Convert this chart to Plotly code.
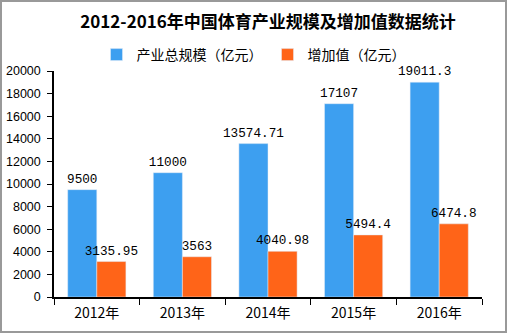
import plotly.graph_objects as go

years = ["2012年", "2013年", "2014年", "2015年", "2016年"]
scale = [9500, 11000, 13574.71, 17107, 19011.3]
added = [3135.95, 3563, 4040.98, 5494.4, 6474.8]
scale_labels = ["9500", "11000", "13574.71", "17107", "19011.3"]
added_labels = ["3135.95", "3563", "4040.98", "5494.4", "6474.8"]
yticks = [0, 2000, 4000, 6000, 8000, 10000, 12000, 14000, 16000, 18000, 20000]
ytick_labels = [str(v) for v in yticks]

W, H = 507, 333
L, R, T, B = 54, 25, 71, 36

lbl_font = dict(family="Liberation Mono", size=12.7, color="#000")

fig = go.Figure()
fig.add_bar(x=years, y=scale, name="产业总规模（亿元）", marker_color="#3D9FF0",
            text=scale_labels, textposition="outside", constraintext="none",
            textfont=lbl_font, outsidetextfont=lbl_font)
fig.add_bar(x=years, y=added, name="增加值（亿元）", marker_color="#FF6418",
            text=added_labels, textposition="outside", constraintext="none",
            textfont=lbl_font, outsidetextfont=lbl_font)

pw, ph = W - L - R, H - T - B
fig.add_shape(type="rect", xref="paper", yref="paper",
              x0=-(L - 1) / pw, x1=1 + (R - 1) / pw,
              y0=-(B - 1) / ph, y1=1 + (T - 1) / ph,
              line=dict(color="#999999", width=2), layer="below")

fig.update_layout(
    width=W, height=H,
    margin=dict(l=L, r=R, t=T, b=B, autoexpand=False),
    paper_bgcolor="white", plot_bgcolor="white",
    barmode="group", bargap=0.32, bargroupgap=0,
    font=dict(family="Noto Sans CJK SC", size=13, color="#000"),
    title=dict(text="<b>2012-2016年中国体育产业规模及增加值数据统计</b>",
               x=0.5, xref="paper", y=1 - 22 / H, yanchor="middle",
               font=dict(size=17, color="#000")),
    legend=dict(orientation="h", x=0.5, xanchor="center", xref="container",
                y=1 - 55 / H, yref="container", yanchor="middle",
                font=dict(size=14), itemwidth=30, tracegroupgap=0,
                bgcolor="rgba(0,0,0,0)"),
    showlegend=True,
)
fig.update_traces(cliponaxis=False)
fig.update_xaxes(showline=True, linecolor="#000", linewidth=1.5,
                 ticks="outside", tickson="boundaries", ticklen=6,
                 tickcolor="#000", showgrid=False, automargin=False,
                 tickfont=dict(size=14), ticklabelstandoff=2)
fig.update_yaxes(range=[0, 20000], tickvals=yticks, ticktext=ytick_labels,
                 showline=True, linecolor="#000", linewidth=1.5,
                 ticks="outside", ticklen=5, tickcolor="#000", showgrid=False,
                 zeroline=False, automargin=False,
                 tickfont=dict(family="Liberation Sans", size=12.5),
                 ticklabelstandoff=4)

fig.write_html("out.html")
